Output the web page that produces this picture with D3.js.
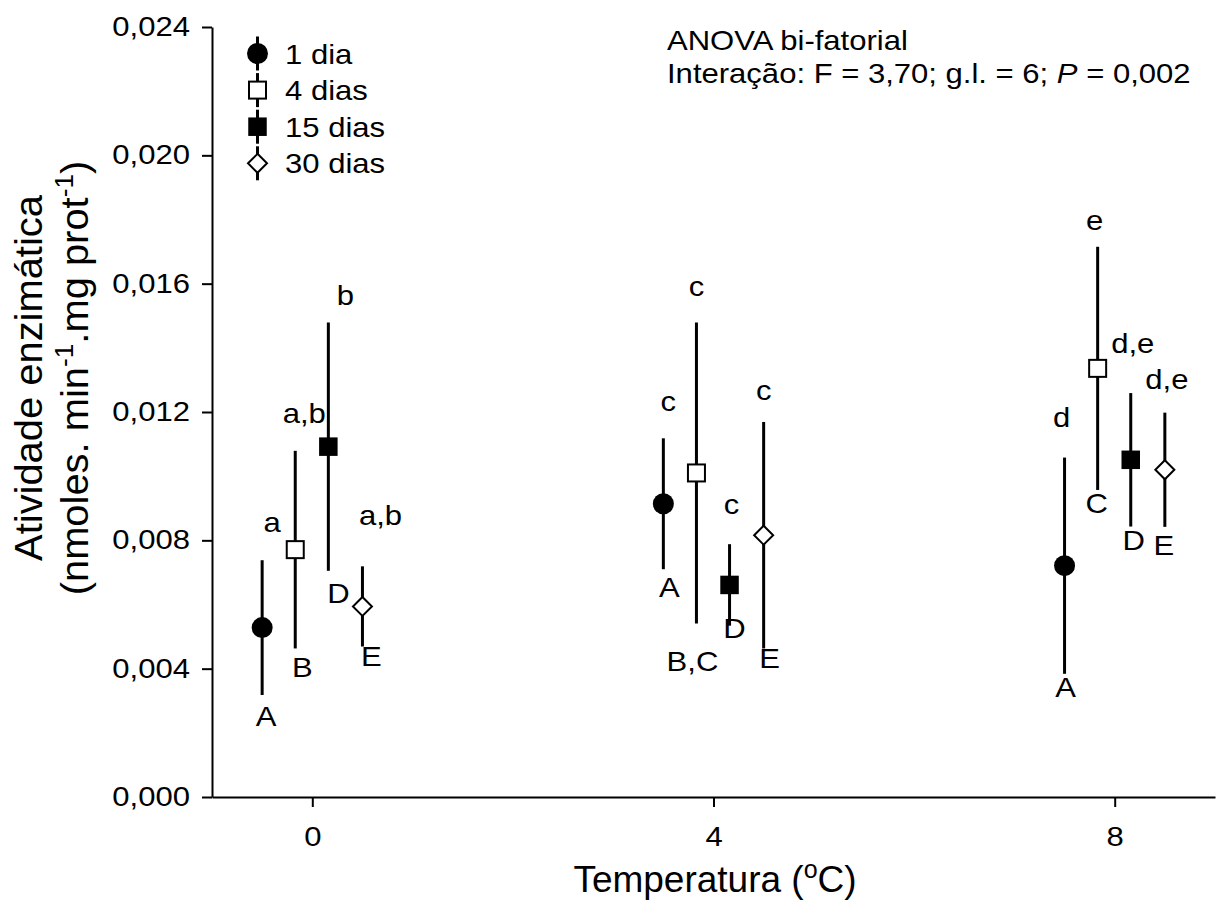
<!DOCTYPE html>
<html>
<head>
<meta charset="utf-8">
<script src="https://cdn.jsdelivr.net/npm/d3@7"></script>
<style>
  body { margin: 0; background: #fff; }
  text { font-family: "Liberation Sans", Arial, Helvetica, sans-serif; fill: #000; }
</style>
</head>
<body>
<div id="chart"></div>
<script>
// temperatures (x groups) and series (exposure time)
const temperatures = [0, 4, 8];
const series = ["1 dia", "4 dias", "15 dias", "30 dias"];
const seriesOffset = [-0.5, -0.17, 0.16, 0.5];

// mean enzymatic activity, rows = series, cols = temperature
const means = [
  [0.00528, 0.00914, 0.00721],
  [0.00771, 0.01010, 0.01336],
  [0.01092, 0.00661, 0.01051],
  [0.00594, 0.00816, 0.01020]
];
// error (± bar length)
const errors = [
  [0.00210, 0.00204, 0.00337],
  [0.00308, 0.00469, 0.00379],
  [0.00387, 0.00127, 0.00208],
  [0.00125, 0.00353, 0.00178]
];

// significance letters
const upperLetters = [["a", "c", "d"], ["a,b", "c", "e"], ["b", "c", "d,e"], ["a,b", "c", "d,e"]];
const lowerLetters = [["A", "A", "A"], ["B", "B,C", "C"], ["D", "D", "D"], ["E", "E", "E"]];
// letter anchors in data units (y = baseline value, x = offset from the temperature)
const upperY = [[0.00827, 0.01203, 0.01154], [0.01165, 0.01562, 0.01767], [0.01534, 0.00881, 0.01383], [0.00848, 0.01237, 0.01271]];
const upperX = [[-0.40, -0.45, -0.53], [-0.08, -0.17, -0.20], [0.33, 0.18, 0.18], [0.68, 0.50, 0.52]];
const lowerY = [[0.00221, 0.00624, 0.00313], [0.00375, 0.00394, 0.00884], [0.00606, 0.00495, 0.00770], [0.00408, 0.00401, 0.00754]];
const lowerX = [[-0.46, -0.44, -0.49], [-0.10, -0.21, -0.18], [0.26, 0.21, 0.19], [0.59, 0.56, 0.49]];

const xTicks = [0, 4, 8];
const yTicks = [0, 0.004, 0.008, 0.012, 0.016, 0.020, 0.024];

const shapes = ["circle", "squareOpen", "square", "diamondOpen"];

const width = 1218, height = 915;
const sx = 1.15; // text is a bit wider than Arial in the original

const svg = d3.select("#chart").append("svg")
    .attr("width", width)
    .attr("height", height);

const x = d3.scaleLinear().domain([-1, 9]).range([212, 1215]);
const y = d3.scaleLinear().domain([0, 0.024]).range([797, 27]);

const locale = d3.formatLocale({decimal: ",", thousands: ".", grouping: [3], currency: ["R$", ""]});
const fmt = locale.format(".3f");

function stretch(sel, k) {
  sel.each(function() {
    const t = d3.select(this);
    const tx = +t.attr("x") || 0, ty = +t.attr("y") || 0;
    t.attr("x", null).attr("y", null)
      .attr("transform", "translate(" + tx + "," + ty + ") scale(" + k + ",1)");
  });
}

function marker(g, shape, cx, cy) {
  if (shape === "circle") {
    g.append("circle").attr("cx", cx).attr("cy", cy).attr("r", 10.5).attr("fill", "#000");
  } else if (shape === "squareOpen") {
    g.append("rect").attr("x", cx - 8.5).attr("y", cy - 8.5).attr("width", 17).attr("height", 17)
      .attr("fill", "#fff").attr("stroke", "#000").attr("stroke-width", 2);
  } else if (shape === "square") {
    g.append("rect").attr("x", cx - 9.25).attr("y", cy - 9.25).attr("width", 18.5).attr("height", 18.5)
      .attr("fill", "#000");
  } else {
    const r = 9.5;
    g.append("path")
      .attr("d", "M" + cx + "," + (cy - r) + "L" + (cx + r) + "," + cy + "L" + cx + "," + (cy + r) + "L" + (cx - r) + "," + cy + "Z")
      .attr("fill", "#fff").attr("stroke", "#000").attr("stroke-width", 2);
  }
}

// axes
const xAxis = svg.append("g")
    .attr("transform", "translate(0,797)")
    .call(d3.axisBottom(x).tickValues(xTicks).tickSize(10).tickPadding(20).tickSizeOuter(0).tickFormat(d3.format("d")));

const yAxis = svg.append("g")
    .attr("transform", "translate(212,0)")
    .call(d3.axisLeft(y).tickValues(yTicks).tickSize(10).tickPadding(12).tickSizeOuter(0).tickFormat(fmt));

[xAxis, yAxis].forEach(a => {
  a.attr("font-size", null).attr("font-family", null);
  a.select(".domain").attr("stroke-width", 2);
  a.selectAll(".tick line").attr("stroke-width", 2);
  a.selectAll(".tick text").style("font-size", "27px");
  stretch(a.selectAll(".tick text"), sx);
});

// axis titles
svg.append("text")
    .attr("transform", "translate(715,892)")
    .attr("text-anchor", "middle")
    .style("font-size", "37px")
    .call(t => {
      t.append("tspan").text("Temperatura (");
      t.append("tspan").attr("dy", -14).style("font-size", "25px").text("o");
      t.append("tspan").attr("dy", 14).text("C)");
    });

svg.append("text")
    .attr("transform", "translate(41.5,378) rotate(-90) scale(1.05,1)")
    .attr("text-anchor", "middle")
    .style("font-size", "38px")
    .text("Atividade enzimática");

svg.append("text")
    .attr("transform", "translate(87.5,378) rotate(-90) scale(1.05,1)")
    .attr("text-anchor", "middle")
    .style("font-size", "38px")
    .call(t => {
      t.append("tspan").text("(nmoles. min");
      t.append("tspan").attr("dy", -15).style("font-size", "25px").text("-1");
      t.append("tspan").attr("dy", 15).text(".mg prot");
      t.append("tspan").attr("dy", -15).style("font-size", "25px").text("-1");
      t.append("tspan").attr("dy", 15).text(")");
    });

// error bars, markers, letters
const plot = svg.append("g");
series.forEach((s, i) => {
  temperatures.forEach((t, j) => {
    const cx = x(t + seriesOffset[i]);
    plot.append("line")
      .attr("x1", cx).attr("x2", cx)
      .attr("y1", y(means[i][j] - errors[i][j]))
      .attr("y2", y(means[i][j] + errors[i][j]))
      .attr("stroke", "#000")
      .attr("stroke-width", 3);
  });
});
series.forEach((s, i) => {
  temperatures.forEach((t, j) => {
    marker(plot, shapes[i], x(t + seriesOffset[i]), y(means[i][j]));
  });
});
series.forEach((s, i) => {
  temperatures.forEach((t, j) => {
    plot.append("text")
      .attr("x", x(t + upperX[i][j])).attr("y", y(upperY[i][j]))
      .attr("text-anchor", "middle")
      .style("font-size", "27px")
      .text(upperLetters[i][j]);
    plot.append("text")
      .attr("x", x(t + lowerX[i][j])).attr("y", y(lowerY[i][j]))
      .attr("text-anchor", "middle")
      .style("font-size", "27px")
      .text(lowerLetters[i][j]);
  });
});
stretch(plot.selectAll("text"), sx);

// legend
const legend = svg.append("g");
series.forEach((s, i) => {
  const ly = 53.5 + i * 36.6;
  legend.append("line")
    .attr("x1", 257.5).attr("x2", 257.5)
    .attr("y1", ly - 17).attr("y2", ly + 17)
    .attr("stroke", "#000").attr("stroke-width", 3);
  marker(legend, shapes[i], 257.5, ly);
  legend.append("text")
    .attr("x", 285).attr("y", ly + 10)
    .style("font-size", "27px")
    .text(s);
});
stretch(legend.selectAll("text"), sx);

// ANOVA note
const note = svg.append("g");
note.append("text").attr("x", 667).attr("y", 50).style("font-size", "27px").text("ANOVA bi-fatorial");
note.append("text").attr("x", 667).attr("y", 83).style("font-size", "27px")
    .call(t => {
      t.append("tspan").text("Interação: F = 3,70; g.l. = 6; ");
      t.append("tspan").style("font-style", "italic").text("P");
      t.append("tspan").text(" = 0,002");
    });
stretch(note.selectAll("text"), sx);
</script>
</body>
</html>
